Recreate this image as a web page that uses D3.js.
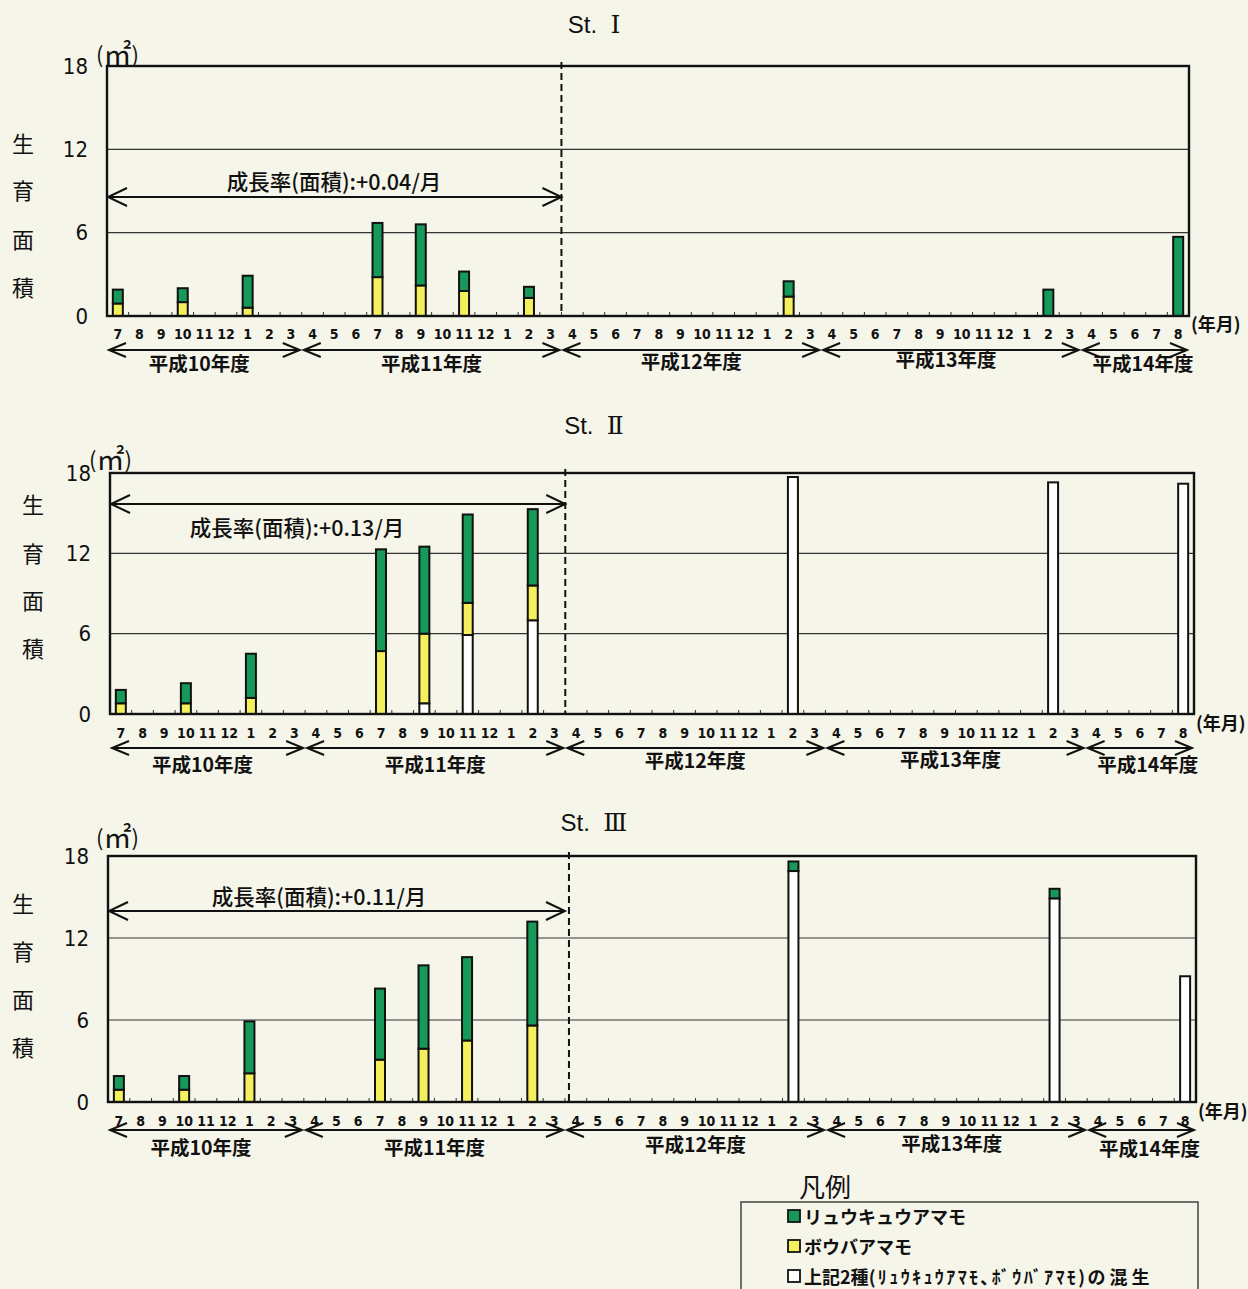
<!DOCTYPE html>
<html><head><meta charset="utf-8">
<script src="https://cdn.jsdelivr.net/npm/d3@7"></script>
<style>
body{margin:0;background:#f6f5e9;}
svg{display:block}
</style>
</head><body>
<svg id="c" width="1248" height="1289"></svg>
<script>
// ---------------- data ----------------
const fiscalYears = ["平成10年度","平成11年度","平成12年度","平成13年度","平成14年度"];
const fiscalPrefix = ["H10","H11","H12","H13","H14"];
const monthsH10 = ["7","8","9","10","11","12","1","2","3"];
const monthsH11 = ["4","5","6","7","8","9","10","11","12","1","2","3"];
const monthsH12 = ["4","5","6","7","8","9","10","11","12","1","2","3"];
const monthsH13 = ["4","5","6","7","8","9","10","11","12","1","2","3"];
const monthsH14 = ["4","5","6","7","8"];
const yTicks = [0, 6, 12, 18];

// observation months (fiscal year - month)
const obsMonths = ["H10-7","H10-10","H10-1","H11-7","H11-9","H11-11","H11-2","H12-2","H13-2","H14-8"];

// St. I  (m2)
const st1Ryukyu = [1.0, 1.0, 2.3, 3.9, 4.4, 1.4, 0.8, 1.1, 1.9, 5.7];
const st1Bouba  = [0.9, 1.0, 0.6, 2.8, 2.2, 1.8, 1.3, 1.4, 0.0, 0.0];
const st1Mixed  = [0,   0,   0,   0,   0,   0,   0,   0,   0,   0  ];
// St. II
const st2Ryukyu = [1.0, 1.5, 3.3, 7.6, 6.5, 6.6, 5.7, 0,    0,    0   ];
const st2Bouba  = [0.8, 0.8, 1.2, 4.7, 5.2, 2.4, 2.6, 0,    0,    0   ];
const st2Mixed  = [0,   0,   0,   0,   0.8, 5.9, 7.0, 17.7, 17.3, 17.2];
// St. III
const st3Ryukyu = [1.0, 1.0, 3.8, 5.2, 6.1, 6.1, 7.6, 0.7,  0.7,  0  ];
const st3Bouba  = [0.9, 0.9, 2.1, 3.1, 3.9, 4.5, 5.6, 0,    0,    0  ];
const st3Mixed  = [0,   0,   0,   0,   0,   0,   0,   16.9, 14.9, 9.2];

const stationNames = ["Ⅰ","Ⅱ","Ⅲ"];
const growthRates = ["+0.04","+0.13","+0.11"];
const legendLabels = ["リュウキュウアマモ","ボウバアマモ"];
const legendMixedParts = ["上記2種", "(ﾘｭｳｷｭｳｱﾏﾓ､ﾎﾞｳﾊﾞｱﾏﾓ)", "の混生"];

// ---------------- styles ----------------
const COL = {ryukyu:"#17995a", bouba:"#f4ef5c", mixed:"#ffffff"};
const JP = "'Noto Sans CJK JP','Noto Sans',sans-serif";
const NUM = "'Liberation Sans Narrow','DejaVu Sans Condensed','Noto Sans',sans-serif";

const fiscalMonthLists = [monthsH10, monthsH11, monthsH12, monthsH13, monthsH14];
const monthKeys = [], monthLabels = [];
fiscalMonthLists.forEach((ms,i)=>ms.forEach(m=>{monthKeys.push(fiscalPrefix[i]+"-"+m); monthLabels.push(m);}));

const stations = [
  {ry:st1Ryukyu, bo:st1Bouba, mx:st1Mixed},
  {ry:st2Ryukyu, bo:st2Bouba, mx:st2Mixed},
  {ry:st3Ryukyu, bo:st3Bouba, mx:st3Mixed}
];

// ---------------- layout ----------------
const layouts = [
  {top:66, bottom:316, left:107, right:1189, titleY:24, unitX:96, unitY:53,
   ylabX:23, ylabY:[142,189,238,286], rateArrowY:197, rateTextY:180, rateTextX:334,
   monthY:334, fyArrowY:350, fyLabY:[362,362,360,358,362], nenY:323, dashOff:0},
  {top:473, bottom:714, left:110, right:1194, titleY:425, unitX:89, unitY:458,
   ylabX:33, ylabY:[503,552,599,647], rateArrowY:504, rateTextY:526, rateTextX:297,
   monthY:733, fyArrowY:748, fyLabY:[763,763,759,758,763], nenY:722, dashOff:0},
  {top:856, bottom:1102, left:108, right:1196, titleY:822, unitX:96, unitY:836,
   ylabX:23, ylabY:[902,950,998,1046], rateArrowY:911, rateTextY:895, rateTextX:319,
   monthY:1121, fyArrowY:1130, fyLabY:[1146,1146,1143,1142,1147], nenY:1110, dashOff:4}
];

const svg = d3.select("#c");
svg.append("rect").attr("width",1248).attr("height",1289).attr("fill","#f6f5e9");

function arrowHead(g, x, y, dir, len, half){
  g.append("path")
   .attr("d", `M${x+dir*len},${y-half} L${x},${y} L${x+dir*len},${y+half}`)
   .attr("fill","none").attr("stroke","#111").attr("stroke-width",2);
}
function dblArrow(g, x1, x2, y, len, half){
  g.append("line").attr("x1",x1).attr("x2",x2).attr("y1",y).attr("y2",y)
   .attr("stroke","#111").attr("stroke-width",2);
  arrowHead(g, x1, y, 1, len, half);
  arrowHead(g, x2, y, -1, len, half);
}

layouts.forEach((L, si)=>{
  const st = stations[si];
  const g = svg.append("g");
  const x = d3.scaleBand().domain(monthKeys).range([L.left, L.right]).paddingInner(0).paddingOuter(0);
  const y = d3.scaleLinear().domain([0,18]).range([L.bottom, L.top]);
  const bw = x.bandwidth();
  const barW = 10;

  // gridlines
  g.selectAll(".grid").data(yTicks.filter(t=>t>0 && t<18)).enter().append("line")
    .attr("x1",L.left).attr("x2",L.right).attr("y1",d=>y(d)).attr("y2",d=>y(d))
    .attr("stroke","#333").attr("stroke-width",1.2);

  // y axis labels
  const yAxis = d3.axisLeft(y).tickValues(yTicks).tickSize(0).tickPadding(19);
  const ya = g.append("g").attr("transform",`translate(${L.left},0)`).call(yAxis);
  ya.select(".domain").remove();
  ya.selectAll("text").attr("font-family",NUM).attr("font-size",22).attr("fill","#111");

  // month labels
  const xAxis = d3.axisBottom(x).tickSize(0).tickPadding(0).tickFormat((d,i)=>monthLabels[i]);
  const xa = g.append("g").attr("transform",`translate(0,${L.monthY})`).call(xAxis);
  xa.select(".domain").remove();
  xa.selectAll("text").attr("font-family",NUM).attr("font-size",14).attr("font-weight","bold")
    .attr("fill","#111").attr("dy","0.35em");

  // small ticks at slot boundaries
  g.selectAll(".tk").data(monthKeys.slice(1)).enter().append("line")
    .attr("x1",d=>x(d)).attr("x2",d=>x(d)).attr("y1",L.bottom).attr("y2",L.bottom-4)
    .attr("stroke","#333").attr("stroke-width",1);

  // bars (stack: mixed, bouba, ryukyu)
  const rows = obsMonths.map((k,i)=>({k, mx:st.mx[i], bo:st.bo[i], ry:st.ry[i]}));
  const stack = d3.stack().keys(["mx","bo","ry"])(rows);
  const fills = {mx:COL.mixed, bo:COL.bouba, ry:COL.ryukyu};
  stack.forEach(layer=>{
    g.selectAll(null).data(layer.filter(d=>d[1]-d[0]>0)).enter().append("rect")
      .attr("x",d=>x(d.data.k)+bw/2-barW/2).attr("width",barW)
      .attr("y",d=>y(d[1])).attr("height",d=>y(d[0])-y(d[1]))
      .attr("fill",fills[layer.key]).attr("stroke","#111").attr("stroke-width",2);
  });

  // frame
  g.append("rect").attr("x",L.left).attr("y",L.top).attr("width",L.right-L.left).attr("height",L.bottom-L.top)
    .attr("fill","none").attr("stroke","#111").attr("stroke-width",2.4);

  // dashed separator (end of H11)
  const dashX = x(fiscalPrefix[2]+"-"+monthsH12[0]);
  g.append("line").attr("x1",dashX+L.dashOff).attr("x2",dashX+L.dashOff)
    .attr("y1",L.top-4).attr("y2",L.bottom)
    .attr("stroke","#111").attr("stroke-width",2).attr("stroke-dasharray","7,4");

  // growth rate arrow + text
  dblArrow(g, L.left+1, dashX, L.rateArrowY, 19, 9);
  g.append("text").attr("x",L.rateTextX).attr("y",L.rateTextY).attr("text-anchor","middle")
    .attr("dominant-baseline","central").attr("font-family",JP).attr("font-size",21.5).attr("font-weight",500)
    .attr("fill","#111").text(`成長率(面積):${growthRates[si]}/月`);

  // fiscal year arrows & labels
  fiscalMonthLists.forEach((ms,fi)=>{
    const x1 = x(fiscalPrefix[fi]+"-"+ms[0]);
    const x2 = x(fiscalPrefix[fi]+"-"+ms[ms.length-1]) + bw;
    dblArrow(g, x1+2, x2-2, L.fyArrowY, 17, 7);
    g.append("text").attr("x",(x1+x2)/2 + (fi===4?8:0) - (fi===0?5:0) - (fi===3?5:0)).attr("y",L.fyLabY[fi])
      .attr("text-anchor","middle").attr("dominant-baseline","central")
      .attr("font-family",JP).attr("font-size",19.5).attr("font-weight","bold").attr("fill","#111")
      .text(fiscalYears[fi]);
  });

  // (年月)
  g.append("text").attr("x",L.right+2).attr("y",L.nenY).attr("dominant-baseline","central")
    .attr("font-family",JP).attr("font-size",18).attr("font-weight","bold").attr("fill","#111").text("(年月)");

  // unit
  const u = g.append("text").attr("x",L.unitX).attr("y",L.unitY).attr("dominant-baseline","central")
    .attr("font-family",JP).attr("font-size",22).attr("fill","#111");
  u.append("tspan").text("(");
  u.append("tspan").attr("font-size",28).text("㎡");
  u.append("tspan").text(")");

  // vertical y label
  "生育面積".split("").forEach((ch,ci)=>{
    g.append("text").attr("x",L.ylabX).attr("y",L.ylabY[ci]).attr("text-anchor","middle")
      .attr("dominant-baseline","central").attr("font-family",JP).attr("font-size",22).attr("fill","#111").text(ch);
  });

  // title
  const t = g.append("text").attr("x",594).attr("y",L.titleY).attr("text-anchor","middle")
    .attr("dominant-baseline","central").attr("fill","#111");
  t.append("tspan").attr("font-family","'Liberation Sans',Arial,sans-serif").attr("font-size",24).text("St.\u00a0\u00a0");
  t.append("tspan").attr("font-family","'Liberation Serif','DejaVu Serif','Noto Sans CJK JP',serif").attr("font-size",25).text(stationNames[si]);
});

// ---------------- legend ----------------
const lg = svg.append("g");
lg.append("text").attr("x",825).attr("y",1185).attr("text-anchor","middle").attr("dominant-baseline","central")
  .attr("font-family",JP).attr("font-size",26).attr("fill","#111").text("凡例");
lg.append("rect").attr("x",741).attr("y",1202).attr("width",457).attr("height",120)
  .attr("fill","none").attr("stroke","#444").attr("stroke-width",1.5);
const legCols = [COL.ryukyu, COL.bouba, COL.mixed];
const legY = [1216, 1246, 1276];
legCols.forEach((c,i)=>{
  lg.append("rect").attr("x",788).attr("y",legY[i]-6).attr("width",12).attr("height",12)
    .attr("fill",c).attr("stroke","#111").attr("stroke-width",1.8);
});
legendLabels.forEach((lab,i)=>{
  lg.append("text").attr("x",804).attr("y",legY[i]).attr("dominant-baseline","central")
    .attr("font-family",JP).attr("font-size",18).attr("font-weight","bold").attr("fill","#111").text(lab);
});
const mt = lg.append("text").attr("x",804).attr("y",legY[2]).attr("dominant-baseline","central")
  .attr("font-family",JP).attr("font-size",18).attr("font-weight","bold").attr("fill","#111");
mt.append("tspan").text(legendMixedParts[0]);
mt.append("tspan").attr("letter-spacing",2.4).text(legendMixedParts[1]);
mt.append("tspan").attr("letter-spacing",4).text(legendMixedParts[2]);
</script>
</body></html>
